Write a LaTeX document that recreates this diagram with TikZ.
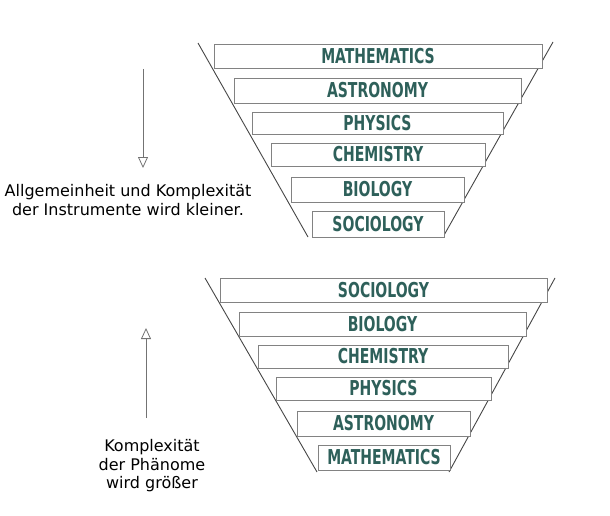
\documentclass[tikz,border=0pt]{standalone}
\usepackage{fontspec}
\setmainfont{DejaVu Sans}
\newfontfamily\boxfont{DejaVu Sans Condensed}
\usetikzlibrary{arrows.meta}
\definecolor{teal1}{RGB}{46,96,90}
\definecolor{boxgray}{RGB}{130,130,130}
\definecolor{linegray}{RGB}{70,70,70}
\newcommand{\lbl}[1]{\scalebox{0.76}[1]{\boxfont\bfseries\fontsize{20.5}{20.5}\selectfont #1}}
\begin{document}
\begin{tikzpicture}[x=1pt,y=-1pt,
  layer/.style={draw=boxgray,line width=0.8pt,fill=white,inner sep=0pt,text=teal1},
  funnel/.style={draw=linegray,line width=0.9pt},
  arr/.style={draw=gray!90!black,line width=0.8pt,-{Triangle[open,fill=white,length=11pt,width=10pt]}},
  note/.style={align=center,font=\fontsize{16}{19}\selectfont,text=black}]
\useasboundingbox (0,0) rectangle (610,516);
% top funnel
\coordinate (tl1) at (198,43); \coordinate (tl2) at (308,237);
\coordinate (tr1) at (553,42); \coordinate (tr2) at (443,237);
\draw[funnel] (tl1) -- (tl2); \draw[funnel] (tr1) -- (tr2);
\node[layer,minimum width=328pt,minimum height=24pt] (tm) at (378,56) {\lbl{MATHEMATICS}};
\node[layer,minimum width=287pt,minimum height=25pt] (ta) at (377.5,90.5) {\lbl{ASTRONOMY}};
\node[layer,minimum width=251pt,minimum height=22pt] (tp) at (377.5,123) {\lbl{PHYSICS}};
\node[layer,minimum width=214pt,minimum height=23pt] (tc) at (378,154.5) {\lbl{CHEMISTRY}};
\node[layer,minimum width=173pt,minimum height=25pt] (tb) at (377.5,189.5) {\lbl{BIOLOGY}};
\node[layer,minimum width=132pt,minimum height=26pt] (ts) at (378,224) {\lbl{SOCIOLOGY}};
% bottom funnel
\coordinate (bl1) at (205,278); \coordinate (bl2) at (317,472);
\coordinate (br1) at (555,278); \coordinate (br2) at (449,472);
\draw[funnel] (bl1) -- (bl2); \draw[funnel] (br1) -- (br2);
\node[layer,minimum width=327pt,minimum height=24pt] (bs) at (383.5,290) {\lbl{SOCIOLOGY}};
\node[layer,minimum width=287pt,minimum height=24pt] (bb) at (382.5,324) {\lbl{BIOLOGY}};
\node[layer,minimum width=250pt,minimum height=23pt] (bc) at (383,356.5) {\lbl{CHEMISTRY}};
\node[layer,minimum width=215pt,minimum height=23pt] (bp) at (383.5,388.5) {\lbl{PHYSICS}};
\node[layer,minimum width=173pt,minimum height=25pt] (ba) at (383.5,423.5) {\lbl{ASTRONOMY}};
\node[layer,minimum width=132pt,minimum height=25pt] (bm) at (384,457.5) {\lbl{MATHEMATICS}};
% arrows and notes
\coordinate (a1s) at (143,69); \coordinate (a1e) at (143,168);
\draw[arr] (a1s) -- (a1e);
\node[note] (n1) at (128,200.5) {Allgemeinheit und Komplexität\\der Instrumente wird kleiner.};
\coordinate (a2s) at (146,418); \coordinate (a2e) at (146,328);
\draw[arr] (a2s) -- (a2e);
\node[note,font=\fontsize{16}{18.5}\selectfont] (n2) at (152,466) {Komplexität\\der Phänome\\wird größer};
\end{tikzpicture}
\end{document}
